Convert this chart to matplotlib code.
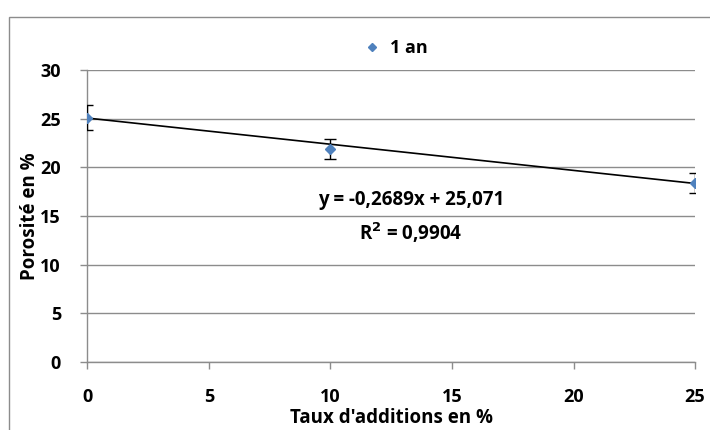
import numpy as np
import matplotlib.pyplot as plt
from matplotlib.patches import Rectangle

# Data
taux = [0, 10, 25]
porosite = [25.1, 21.9, 18.4]
erreurs = [1.3, 1.05, 1.05]

# Trendline shown on the chart
pente = -0.2689
origine = 25.071
r2 = 0.9904

plt.rcParams['font.family'] = ['Open Sans', 'DejaVu Sans']
plt.rcParams['font.weight'] = 'bold'

fig = plt.figure(figsize=(7.1, 4.3), dpi=100)
ax = fig.add_axes([0.123, 0.158, 0.856, 0.679])

# outer frame of the chart area (cut by the image edge)
fig.patches.append(Rectangle((9 / 710, -0.1), 1.1, 1 - 17 / 430 + 0.1,
                             transform=fig.transFigure, fill=False,
                             edgecolor='#8c8c8c', linewidth=1.0))

ax.grid(axis='y', color='#8c8c8c', linewidth=1.0)
ax.set_axisbelow(True)

x_line = np.array([0, 25])
ax.plot(x_line, pente * x_line + origine, color='black', linewidth=1.2, zorder=2)

ax.errorbar(taux, porosite, yerr=erreurs, fmt='none', ecolor='black',
            elinewidth=1.0, capsize=4, capthick=1.0, zorder=3)
ax.plot(taux, porosite, linestyle='none', marker='D', markersize=5,
        color='#4F81BD', label='1 an', zorder=4)

ax.set_xlim(0, 25)
ax.set_ylim(0, 30)
ax.set_xticks(range(0, 26, 5))
ax.set_yticks(range(0, 31, 5))

for s in ['top', 'right']:
    ax.spines[s].set_visible(False)
for s in ['left', 'bottom']:
    ax.spines[s].set_color('#8c8c8c')
    ax.spines[s].set_linewidth(1.0)
ax.tick_params(axis='both', colors='#8c8c8c', length=5, width=1.0,
               labelcolor='black', labelsize=13)
ax.tick_params(axis='x', pad=14)
ax.tick_params(axis='y', pad=14)

ax.set_xlabel("Taux d'additions en %", fontsize=13.5, fontweight='bold', labelpad=1)
ax.set_ylabel("Porosité en %", fontsize=13.5, fontweight='bold', labelpad=0)

ax.legend(loc='center', bbox_to_anchor=(0.5, 1.075), frameon=False,
          fontsize=13, handletextpad=0.0, markerscale=0.9)

ax.text(13.3, 15.6, f"y = {pente:.4f}x + {origine:.3f}".replace('.', ','),
        ha='center', va='bottom', fontsize=13.5, fontweight='bold')
ax.text(13.3, 14.5, f"R$^2$ = {r2:.4f}".replace('.', ','),
        ha='center', va='top', fontsize=13.5, fontweight='bold')

fig.savefig('out.png', dpi=100)
